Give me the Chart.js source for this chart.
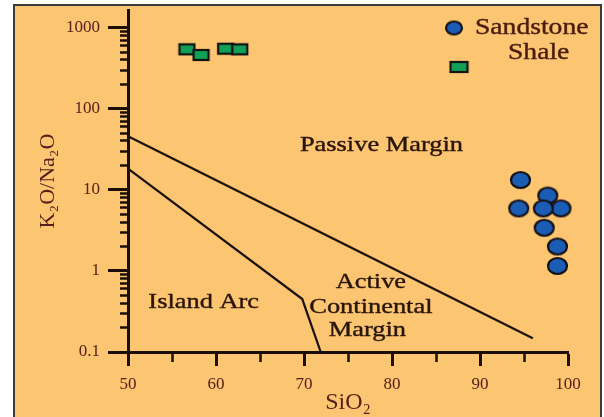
<!DOCTYPE html>
<html>
<head>
<meta charset="utf-8">
<script src="https://cdn.jsdelivr.net/npm/chart.js@4"></script>
<style>
  html, body { margin: 0; background: #fff; overflow: hidden; }
  #frame { position: absolute; left: 13px; top: 4px; width: 585px; height: 430px; border: 2px solid #3b3b3b; background: #fcc571; }
  #wrap { position: absolute; left: 0; top: 0; width: 604px; height: 417px; }
</style>
</head>
<body>
<div id="frame"></div>
<div id="wrap"><canvas id="chart" width="604" height="417"></canvas></div>
<script>
// 1. Data
const sandstoneSiO2 = [94.6, 97.7, 94.4, 99.2, 97.2, 97.3, 98.8, 98.8];
const sandstoneRatio = [13.2, 8.5, 5.9, 5.9, 5.9, 3.4, 2.0, 1.15];
const shaleSiO2 = [56.7, 58.3, 61.1, 62.7];
const shaleRatio = [540, 460, 550, 540];

// boundary lines of the fields
const passiveLineSiO2 = [50, 96];
const passiveLineRatio = [45.8, 0.148];
const arcLineSiO2 = [50, 69.8, 71.9];
const arcLineRatio = [18.3, 0.45, 0.1];

// axis ticks
const xTicks = [50, 55, 60, 65, 70, 75, 80, 85, 90, 95, 100];
const xTickLabels = [50, 60, 70, 80, 90, 100];
const yTickLabels = [0.1, 1, 10, 100, 1000];

// 2. Styles
const serif = '"Liberation Serif", "Times New Roman", serif';
const axisColor = '#1c0c06';
const labelColor = '#55201a';
const textColor = '#2a150b';

// minor log ticks 1..9 in every decade
const yTicks = [];
yTickLabels.slice(0, -1).forEach(d => {
    for (let s = 1; s < 10; s++) yTicks.push(parseFloat((s * d).toPrecision(3)));
});
yTicks.push(yTickLabels[yTickLabels.length - 1]);

function makeSandMarker(rx, ry) {
    const c = document.createElement('canvas');
    c.width = Math.ceil(rx * 2 + 4);
    c.height = Math.ceil(ry * 2 + 4);
    const g = c.getContext('2d');
    g.beginPath();
    g.ellipse(c.width / 2, c.height / 2, rx, ry, 0, 0, Math.PI * 2);
    g.fillStyle = '#1b5db4';
    g.fill();
    g.lineWidth = 2.2;
    g.strokeStyle = '#141018';
    g.stroke();
    return c;
}

function makeShaleMarker(w, h) {
    const c = document.createElement('canvas');
    c.width = w + 4;
    c.height = h + 4;
    const g = c.getContext('2d');
    g.fillStyle = '#10a058';
    g.fillRect(2, 2, w, h);
    g.lineWidth = 2.2;
    g.strokeStyle = '#121212';
    g.strokeRect(2, 2, w, h);
    return c;
}

const sandMarker = makeSandMarker(9.5, 8);
const shaleMarker = makeShaleMarker(15, 10);
const sandLegend = makeSandMarker(8, 6.5);
const shaleLegend = makeShaleMarker(17, 10);

// text a bit wider and heavier, like the scanned figure
function stretchedText(ctx, text, x, y, size, color, align) {
    ctx.save();
    ctx.font = size + 'px ' + serif;
    ctx.fillStyle = color;
    ctx.strokeStyle = color;
    ctx.lineWidth = 0.4;
    ctx.textAlign = align || 'center';
    ctx.textBaseline = 'middle';
    ctx.translate(x, y);
    ctx.scale(1.2, 1);
    ctx.fillText(text, 0, 0);
    ctx.strokeText(text, 0, 0);
    ctx.restore();
}

// field names, placed in data units
const notes = [
    { text: 'Passive Margin', x: 78.8, y: 35 },
    { text: 'Island Arc', x: 58.6, y: 0.41 },
    { text: 'Active', x: 77.6, y: 0.72 },
    { text: 'Continental', x: 77.6, y: 0.36 },
    { text: 'Margin', x: 77.2, y: 0.184 }
];

const labelsPlugin = {
    id: 'labels',
    afterDraw(chart) {
        const ctx = chart.ctx;
        const xs = chart.scales.x;
        const ys = chart.scales.y;
        notes.forEach(n => {
            stretchedText(ctx, n.text, xs.getPixelForValue(n.x), ys.getPixelForValue(n.y), 22, textColor);
        });
        // legend
        ctx.drawImage(sandLegend, 454 - sandLegend.width / 2, 28 - sandLegend.height / 2);
        ctx.drawImage(shaleLegend, 459 - shaleLegend.width / 2, 67 - shaleLegend.height / 2);
        stretchedText(ctx, 'Sandstone', 475, 28, 23, '#4a1c10', 'left');
        stretchedText(ctx, 'Shale', 508, 53, 23, '#4a1c10', 'left');
    }
};

const toPoints = (xs, ys) => xs.map((x, i) => ({ x: x, y: ys[i] }));
const isMajorX = c => c.tick && xTickLabels.includes(c.tick.value);
const isMajorY = c => c.tick && yTickLabels.includes(c.tick.value);

// 3. Chart
new Chart(document.getElementById('chart'), {
    type: 'scatter',
    data: {
        datasets: [
            {
                label: 'Sandstone',
                data: toPoints(sandstoneSiO2, sandstoneRatio),
                pointStyle: sandMarker,
                pointRadius: 9,
                clip: false,
                order: 1
            },
            {
                label: 'Shale',
                data: toPoints(shaleSiO2, shaleRatio),
                pointStyle: shaleMarker,
                pointRadius: 8,
                clip: false,
                order: 1
            },
            {
                label: 'passive',
                data: toPoints(passiveLineSiO2, passiveLineRatio),
                showLine: true,
                borderColor: '#1a1210',
                borderWidth: 2.2,
                pointRadius: 0,
                order: 3
            },
            {
                label: 'arc',
                data: toPoints(arcLineSiO2, arcLineRatio),
                showLine: true,
                borderColor: '#1a1210',
                borderWidth: 2.2,
                pointRadius: 0,
                order: 3
            }
        ]
    },
    options: {
        responsive: false,
        animation: false,
        layout: { padding: { top: 3, right: 36, bottom: 0, left: 0 } },
        plugins: { legend: { display: false }, tooltip: { enabled: false } },
        scales: {
            x: {
                type: 'linear',
                min: 50,
                max: 100,
                afterBuildTicks: s => { s.ticks = xTicks.map(v => ({ value: v })); },
                afterFit: s => { s.height = 65; s.paddingLeft = 0; s.paddingRight = 0; },
                border: { display: true, color: axisColor, width: 3 },
                grid: {
                    drawOnChartArea: false,
                    tickLength: 14,
                    tickColor: axisColor,
                    tickWidth: c => isMajorX(c) ? 3 : 2.5,
                    tickBorderDash: c => isMajorX(c) ? [] : [8, 20]
                },
                ticks: {
                    autoSkip: false,
                    maxRotation: 0,
                    padding: 8,
                    color: labelColor,
                    font: { family: serif, size: 17 },
                    callback: v => xTickLabels.includes(v) ? String(v) : ''
                },
                title: {
                    display: true,
                    text: 'SiO₂',
                    color: labelColor,
                    font: { family: serif, size: 24 },
                    padding: { top: 0, bottom: 0 }
                }
            },
            y: {
                type: 'logarithmic',
                min: 0.1,
                max: 1650,
                afterBuildTicks: s => { s.ticks = yTicks.map(v => ({ value: v })); },
                afterFit: s => { s.width = 128; s.paddingTop = 0; s.paddingBottom = 0; },
                border: { display: true, color: axisColor, width: 3 },
                grid: {
                    drawOnChartArea: false,
                    tickLength: 20,
                    tickColor: axisColor,
                    tickWidth: c => isMajorY(c) ? 3 : 2.5,
                    tickBorderDash: c => isMajorY(c) ? [] : [8, 12],
                    tickBorderDashOffset: c => isMajorY(c) ? 0 : 8
                },
                ticks: {
                    autoSkip: false,
                    padding: 8,
                    color: labelColor,
                    font: { family: serif, size: 17 },
                    callback: v => yTickLabels.includes(v) ? String(v) : ''
                },
                title: {
                    display: true,
                    text: 'K₂O/Na₂O',
                    color: labelColor,
                    font: { family: serif, size: 22 },
                    padding: { top: 35, bottom: 0 }
                }
            }
        }
    },
    plugins: [labelsPlugin]
});
</script>
</body>
</html>
